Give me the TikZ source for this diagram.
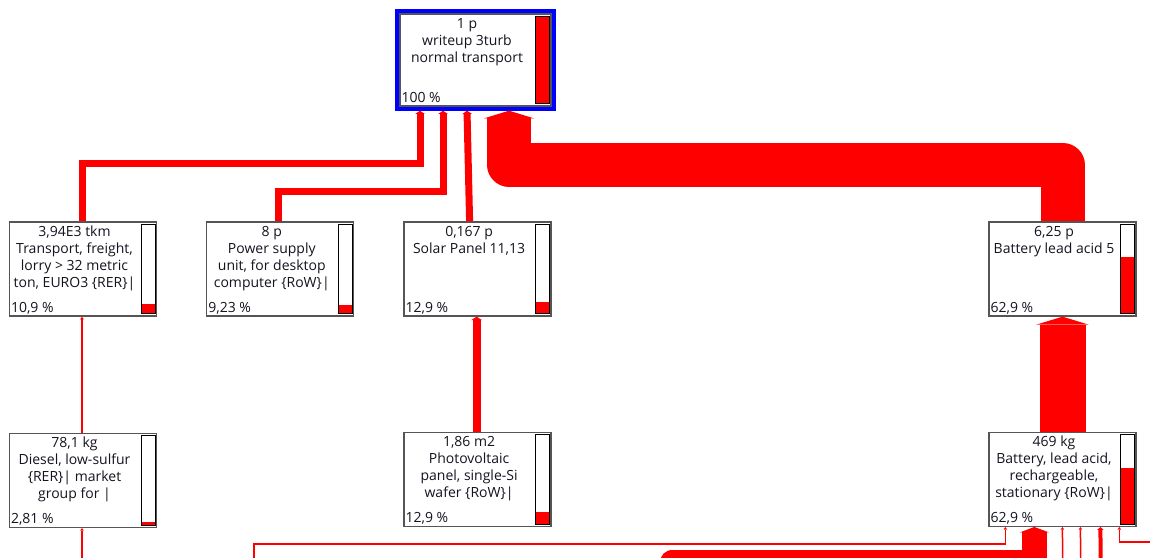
\documentclass[tikz,border=0pt]{standalone}
\usepackage{fontspec}
\setmainfont{Open Sans}
\usetikzlibrary{arrows.meta,calc,positioning}
\definecolor{flowred}{HTML}{FF0000}
\definecolor{selblue}{HTML}{0000FF}
\definecolor{frame}{HTML}{555555}
\definecolor{ink}{HTML}{141420}
\tikzset{
  flow/.style={draw=flowred,line width=#1,-{Triangle[length=2.5pt 0.12,width=2pt 1.1,line width=0pt]}},
  proc/.style={draw=frame,line width=1.3pt,fill=white,minimum width=147pt,minimum height=94pt,inner sep=0pt},
  sel/.style={draw=selblue,line width=4pt},
  lcatext/.style={anchor=north,xshift=-8.5pt,yshift=-4.5pt,inner sep=0pt,align=center,text=ink,
                  font=\fontsize{14}{17}\selectfont},
  lcapct/.style={anchor=base west,xshift=2pt,yshift=4pt,inner sep=0pt,text=ink,
                 font=\fontsize{14}{17}\selectfont},
  barframe/.style={draw=black,line width=0.9pt}
}
\newcommand{\lcabar}[2]{%
  \fill[flowred] ([shift={(-16,-3)}]#1.south east) rectangle
    ($([shift={(-2,-3)}]#1.south east)!#2!([shift={(-2,3)}]#1.north east)$);
  \draw[barframe] ([shift={(-16,3)}]#1.north east) rectangle ([shift={(-2,-3)}]#1.south east);
}

\begin{document}
\begin{tikzpicture}[x=1pt,y=-1pt]
  \path[fill=white,use as bounding box] (0,0) rectangle (1150,557);
  % process boxes
  \node[proc,minimum width=151pt,minimum height=92pt,
        label={[lcatext]north:1 p\\writeup 3turb\\normal transport},
        label={[lcapct]south west:100 \%}] (top) at (475.5,60) {};
  \node[proc,label={[lcatext]north:3,94E3 tkm\\Transport, freight,\\lorry > 32 metric\\ton, EURO3 \{RER\}|},
        label={[lcapct]south west:10,9 \%}] (truck) at (83,269) {};
  \node[proc,right=49pt of truck,label={[lcatext]north:8 p\\Power supply\\unit, for desktop\\computer \{RoW\}|},
        label={[lcapct]south west:9,23 \%}] (psu) {};
  \node[proc,right=49pt of psu,label={[lcatext]north:0,167 p\\Solar Panel 11,13},
        label={[lcapct]south west:12,9 \%}] (solar) {};
  \node[proc,label={[lcatext]north:6,25 p\\Battery lead acid 5},
        label={[lcapct]south west:62,9 \%}] (batt) at (1062.5,269) {};
  \node[proc,below=116pt of truck,label={[lcatext]north:78,1 kg\\Diesel, low-sulfur\\\{RER\}| market\\group for |},
        label={[lcapct]south west:2,81 \%}] (diesel) {};
  \node[proc,below=115pt of solar,label={[lcatext]north:1,86 m2\\Photovoltaic\\panel, single-Si\\wafer \{RoW\}|},
        label={[lcapct]south west:12,9 \%}] (pv) {};
  \node[proc,below=115pt of batt,label={[lcatext]north:469 kg\\Battery, lead acid,\\rechargeable,\\stationary \{RoW\}|},
        label={[lcapct]south west:62,9 \%}] (cell) {};
  \draw[sel] ([shift={(-2.7,-2.7)}]top.north west) rectangle ([shift={(2.7,2.7)}]top.south east);
  \lcabar{top}{1}
  \lcabar{truck}{0.109}
  \lcabar{psu}{0.0923}
  \lcabar{solar}{0.129}
  \lcabar{batt}{0.629}
  \lcabar{diesel}{0.0281}
  \lcabar{pv}{0.129}
  \lcabar{cell}{0.629}
  % flows into the top process
  \draw[flow=7pt] ([xshift=-1pt]truck.north) |- ([shift={(-55.5,57)}]top.south) -- ([shift={(-55.5,4)}]top.south);
  \draw[flow=7pt] ([xshift=-2pt]psu.north) |- ([shift={(-32.5,85)}]top.south) -- ([shift={(-32.5,4)}]top.south);
  \draw[flow=7pt] ([xshift=-8pt]solar.north) -- ([shift={(-8.5,4)}]top.south);
  \draw[flow=44pt,line join=round] (batt.north) |- ([shift={(33.5,58)}]top.south) -- ([shift={(33.5,4)}]top.south);
  % second level
  \draw[flow=1.5pt] ([xshift=-1pt]diesel.north) -- ([xshift=-1pt]truck.south);
  \draw[flow=8pt] ([xshift=-1pt]pv.north) -- ([xshift=-1pt]solar.south);
  \draw[flow=46pt] (cell.north) -- (batt.south);
  % flows from below the view
  \coordinate (inDiesel) at (82,580);
  \coordinate (inWest) at (254,580);
  \coordinate (inBig) at (672,610);
  \coordinate (inA) at (1063,580);
  \coordinate (inB) at (1081,580);
  \coordinate (inC) at (1101,580);
  \coordinate (inEast) at (1170,542);
  \draw[flow=1.5pt] (inDiesel) -- ([xshift=-1pt]diesel.south);
  \draw[flow=1.5pt] (inWest) |- ([shift={(17,17)}]cell.south west) -- ([xshift=17pt]cell.south west);
  \draw[flow=25pt,line join=round] (inBig) |- ([shift={(46,35.5)}]cell.south west) -- ([xshift=46pt]cell.south west);
  \draw[flow=1.5pt] (inA) -- ([xshift=74pt]cell.south west);
  \draw[flow=1.5pt] (inB) -- ([xshift=92pt]cell.south west);
  \draw[flow=4pt] (inC) -- ([xshift=112pt]cell.south west);
  \draw[flow=1.5pt] (inEast) -| ([xshift=131pt]cell.south west);
\end{tikzpicture}
\end{document}
